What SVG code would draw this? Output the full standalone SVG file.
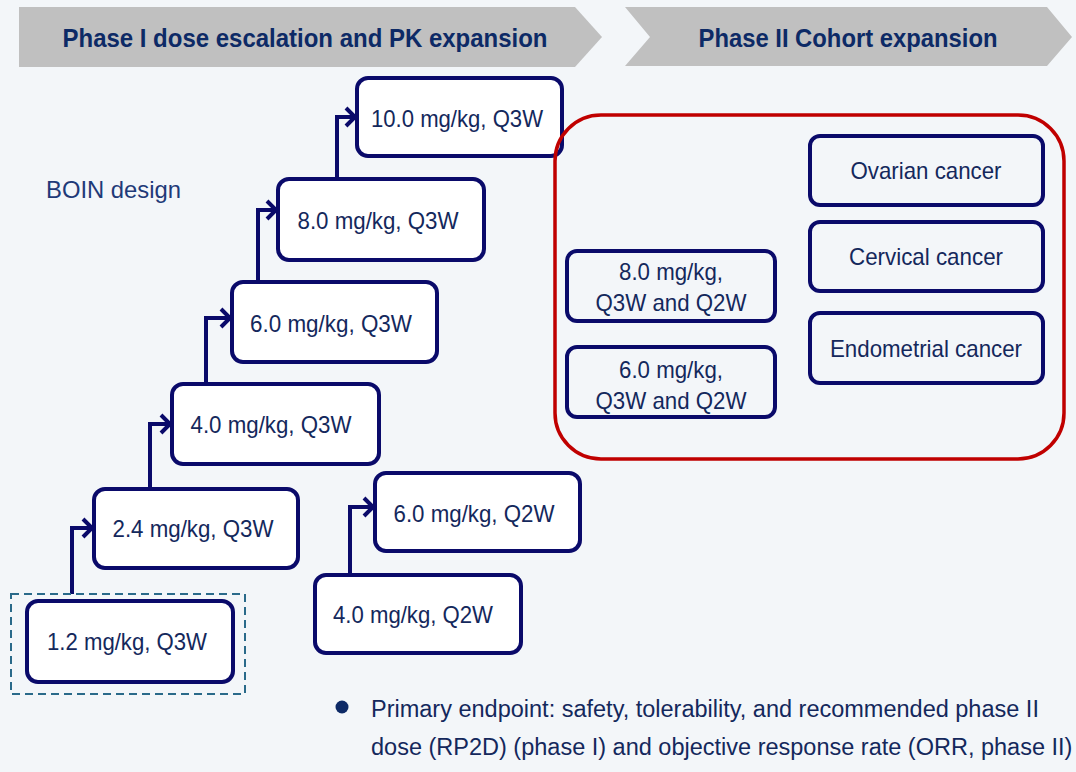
<svg xmlns="http://www.w3.org/2000/svg" width="1076" height="772" viewBox="0 0 1076 772">
<style>
.bg{fill:#f3f6f9}
.hdr{fill:#c0c0c0}
.hdrt{font-family:"Liberation Sans",Arial,sans-serif;font-weight:bold;font-size:25px;fill:#0d2a66;text-anchor:middle}
.box{fill:#ffffff;stroke:#0a0a6a;stroke-width:4}
.box2{fill:none;stroke:#0a0a6a;stroke-width:4}
.t{font-family:"Liberation Sans",Arial,sans-serif;font-size:24px;fill:#14285c;text-anchor:middle}
.conn{fill:none;stroke:#0a0a6a;stroke-width:4}
.note{font-family:"Liberation Sans",Arial,sans-serif;font-size:23.5px;fill:#14285c}
</style>
<defs>
<marker id="chev" markerUnits="userSpaceOnUse" markerWidth="18" markerHeight="24" refX="13" refY="12" orient="auto" viewBox="0 0 18 24">
<path d="M4,3 L13,12 L4,21" fill="none" stroke="#0a0a6a" stroke-width="4"/>
</marker>
</defs>
<rect class="bg" x="0" y="0" width="1076" height="772"/>

<g id="header1">
<polygon class="hdr" points="19,7 575,7 602,37 575,67 19,67"/>
<text class="hdrt" x="305" y="47" textLength="485" lengthAdjust="spacingAndGlyphs">Phase I dose escalation and PK expansion</text>
</g>
<g id="header2">
<polygon class="hdr" points="625,7 1047,7 1072,37 1047,66 625,66 650,37"/>
<text class="hdrt" x="848" y="47" textLength="299" lengthAdjust="spacingAndGlyphs">Phase II Cohort expansion</text>
</g>

<text id="boin" x="46" y="198" font-family="Liberation Sans, Arial, sans-serif" font-size="24" fill="#1f3a78" textLength="135" lengthAdjust="spacingAndGlyphs">BOIN design</text>

<g id="connectors">
<path class="conn" d="M72,594 V528 H92" marker-end="url(#chev)"/>
<path class="conn" d="M150,489 V424 H170" marker-end="url(#chev)"/>
<path class="conn" d="M206,384 V318 H230" marker-end="url(#chev)"/>
<path class="conn" d="M258,282 V210 H276" marker-end="url(#chev)"/>
<path class="conn" d="M337,179 V117 H355" marker-end="url(#chev)"/>
<path class="conn" d="M350,575 V507 H373" marker-end="url(#chev)"/>
</g>

<g id="dose-1-2">
<rect x="11" y="594" width="234" height="100" fill="none" stroke="#2a6a8a" stroke-width="2" stroke-dasharray="8,5"/>
<rect class="box" x="27" y="601" width="206" height="81" rx="11"/>
<text class="t" x="127" y="650" textLength="160" lengthAdjust="spacingAndGlyphs">1.2 mg/kg, Q3W</text>
</g>
<g id="dose-2-4">
<rect class="box" x="94" y="489" width="204" height="79" rx="11"/>
<text class="t" x="193" y="537" textLength="161" lengthAdjust="spacingAndGlyphs">2.4 mg/kg, Q3W</text>
</g>
<g id="dose-4-0">
<rect class="box" x="172" y="384" width="207" height="80" rx="11"/>
<text class="t" x="271" y="433" textLength="161" lengthAdjust="spacingAndGlyphs">4.0 mg/kg, Q3W</text>
</g>
<g id="dose-6-0">
<rect class="box" x="232" y="282" width="205" height="80" rx="11"/>
<text class="t" x="331" y="332" textLength="162" lengthAdjust="spacingAndGlyphs">6.0 mg/kg, Q3W</text>
</g>
<g id="dose-8-0">
<rect class="box" x="278" y="179" width="206" height="81" rx="11"/>
<text class="t" x="378" y="229" textLength="161" lengthAdjust="spacingAndGlyphs">8.0 mg/kg, Q3W</text>
</g>
<g id="dose-10-0">
<rect class="box" x="357" y="78" width="205" height="78" rx="11"/>
<text class="t" x="457" y="127" textLength="172" lengthAdjust="spacingAndGlyphs">10.0 mg/kg, Q3W</text>
</g>
<g id="dose-6-0-q2w">
<rect class="box" x="375" y="473" width="205" height="78" rx="11"/>
<text class="t" x="474" y="522" textLength="161" lengthAdjust="spacingAndGlyphs">6.0 mg/kg, Q2W</text>
</g>
<g id="dose-4-0-q2w">
<rect class="box" x="315" y="575" width="206" height="78" rx="11"/>
<text class="t" x="413" y="623" textLength="160" lengthAdjust="spacingAndGlyphs">4.0 mg/kg, Q2W</text>
</g>

<g id="phase2-group">
<rect x="555" y="115" width="509" height="344" rx="46" fill="none" stroke="#c00000" stroke-width="3.5"/>
</g>
<g id="p2-8-0">
<rect class="box2" x="567" y="251" width="208" height="70" rx="10"/>
<text class="t" x="671" y="280" textLength="104" lengthAdjust="spacingAndGlyphs">8.0 mg/kg,</text>
<text class="t" x="671" y="311" textLength="151" lengthAdjust="spacingAndGlyphs">Q3W and Q2W</text>
</g>
<g id="p2-6-0">
<rect class="box2" x="567" y="347" width="208" height="70" rx="10"/>
<text class="t" x="671" y="378" textLength="104" lengthAdjust="spacingAndGlyphs">6.0 mg/kg,</text>
<text class="t" x="671" y="409" textLength="151" lengthAdjust="spacingAndGlyphs">Q3W and Q2W</text>
</g>
<g id="ovarian">
<rect class="box2" x="810" y="136" width="233" height="69" rx="10"/>
<text class="t" x="926" y="179" textLength="151" lengthAdjust="spacingAndGlyphs">Ovarian cancer</text>
</g>
<g id="cervical">
<rect class="box2" x="810" y="222" width="233" height="69" rx="10"/>
<text class="t" x="926" y="265" textLength="154" lengthAdjust="spacingAndGlyphs">Cervical cancer</text>
</g>
<g id="endometrial">
<rect class="box2" x="810" y="313" width="233" height="70" rx="10"/>
<text class="t" x="926" y="357" textLength="192" lengthAdjust="spacingAndGlyphs">Endometrial cancer</text>
</g>

<g id="note">
<circle cx="342" cy="707" r="6.5" fill="#0d2a66"/>
<text class="note" x="371" y="717">Primary endpoint: safety, tolerability, and recommended phase II</text>
<text class="note" x="371" y="755">dose (RP2D) (phase I) and objective response rate (ORR, phase II)</text>
</g>
</svg>
